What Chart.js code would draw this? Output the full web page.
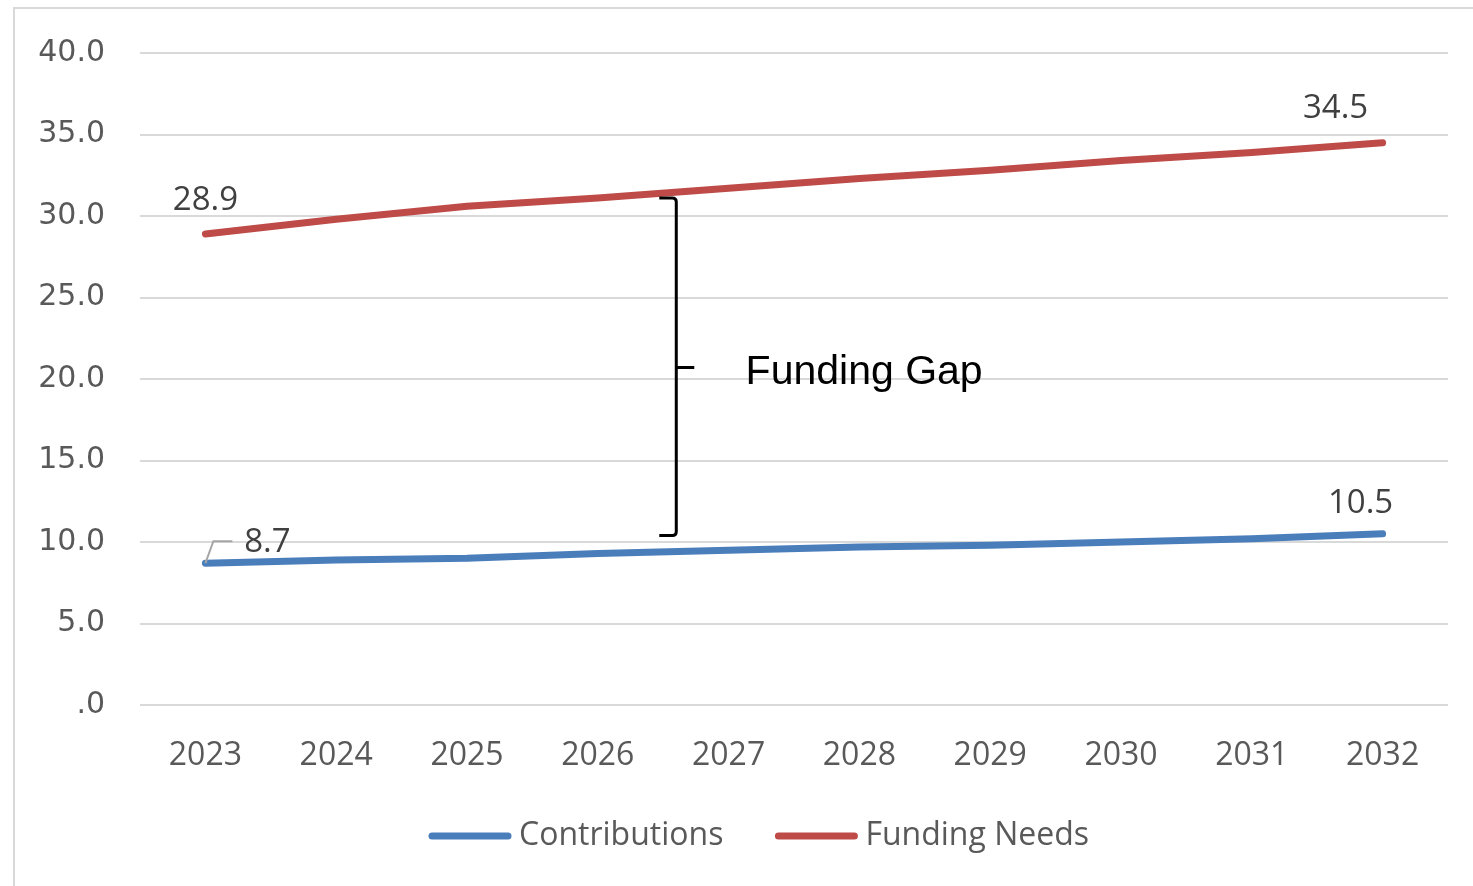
<!DOCTYPE html>
<html>
<head>
<meta charset="utf-8">
<script src="https://cdn.jsdelivr.net/npm/chart.js@4.4.0/dist/chart.umd.min.js"></script>
<style>
  html, body { margin: 0; padding: 0; background: #fff; overflow: hidden; }
  #frame { position: absolute; left: 13px; top: 7px; width: 1600px; height: 1000px;
           border-left: 2px solid #d9d9d9; border-top: 2px solid #d9d9d9; }
  #wrap { position: absolute; left: 0; top: 0; width: 1473px; height: 886px; }
</style>
</head>
<body>
<div id="frame"></div>
<div id="wrap"><canvas id="gapChart"></canvas></div>
<script>
// chart values
const years = ['2023', '2024', '2025', '2026', '2027', '2028', '2029', '2030', '2031', '2032'];
const contributions = [8.7, 8.9, 9.0, 9.3, 9.5, 9.7, 9.8, 10.0, 10.2, 10.5];
const fundingNeeds = [28.9, 29.8, 30.6, 31.1, 31.7, 32.3, 32.8, 33.4, 33.9, 34.5];
const yTicks = [0, 5, 10, 15, 20, 25, 30, 35, 40];

const labelFont = "'Open Sans', sans-serif";
const blue = '#4a7ebb';
const red = '#be4b48';

// bracket + "Funding Gap" annotation (in axis units)
const gapBracket = { x: 3.6, top: 31.1, bottom: 10.4, mid: 20.7 };
const gapText = { x: 4.13, y: 20.4, text: 'Funding Gap' };

// which points get a value label, and where it sits relative to the point
const valueLabels = [
  { ds: 1, i: 0, dx: 0, dy: -33 },
  { ds: 1, i: 9, dx: -47, dy: -34 },
  { ds: 0, i: 0, dx: 62, dy: -21, leader: true },
  { ds: 0, i: 9, dx: -22, dy: -30 }
];

const annotations = {
  id: 'annotations',
  afterDatasetsDraw(chart) {
    const ctx = chart.ctx;
    const xs = chart.scales.x, ys = chart.scales.y;
    ctx.save();

    // value labels
    ctx.font = '33px ' + labelFont;
    ctx.fillStyle = '#404040';
    ctx.textAlign = 'center';
    ctx.textBaseline = 'middle';
    valueLabels.forEach(l => {
      const pt = chart.getDatasetMeta(l.ds).data[l.i];
      const v = chart.data.datasets[l.ds].data[l.i];
      if (l.leader) {
        ctx.strokeStyle = '#a6a6a6';
        ctx.lineWidth = 2;
        ctx.beginPath();
        ctx.moveTo(pt.x, pt.y);
        ctx.lineTo(pt.x + 8, pt.y - 22);
        ctx.lineTo(pt.x + 27, pt.y - 22);
        ctx.stroke();
      }
      ctx.fillText(v.toFixed(1), pt.x + l.dx, pt.y + l.dy);
    });

    // bracket
    const bx = xs.getPixelForValue(gapBracket.x);
    const bt = ys.getPixelForValue(gapBracket.top);
    const bb = ys.getPixelForValue(gapBracket.bottom);
    const bm = ys.getPixelForValue(gapBracket.mid);
    ctx.strokeStyle = '#000';
    ctx.lineWidth = 3;
    ctx.lineJoin = 'round';
    ctx.beginPath();
    ctx.moveTo(bx - 17, bt);
    ctx.lineTo(bx - 4, bt);
    ctx.quadraticCurveTo(bx, bt, bx, bt + 4);
    ctx.lineTo(bx, bb - 4);
    ctx.quadraticCurveTo(bx, bb, bx - 4, bb);
    ctx.lineTo(bx - 17, bb);
    ctx.moveTo(bx, bm);
    ctx.lineTo(bx + 18, bm);
    ctx.stroke();

    // gap text
    ctx.font = "41px 'Liberation Sans', Arial, sans-serif";
    ctx.fillStyle = '#000';
    ctx.textAlign = 'left';
    ctx.fillText(gapText.text, xs.getPixelForValue(gapText.x), ys.getPixelForValue(gapText.y));
    ctx.restore();
  }
};

// legend drawn by hand: short line, small gap, label
const bottomLegend = {
  id: 'bottomLegend',
  afterDraw(chart) {
    const ctx = chart.ctx;
    const sets = chart.data.datasets;
    const lineLen = 82, textGap = 8, itemGap = 52;
    ctx.save();
    ctx.font = '32px ' + labelFont;
    ctx.textBaseline = 'middle';
    ctx.textAlign = 'left';
    const widths = sets.map(d => lineLen + textGap + ctx.measureText(d.label).width);
    const total = widths.reduce((a, b) => a + b, 0) + itemGap * (sets.length - 1);
    let x = (chart.chartArea.left + chart.chartArea.right) / 2 - total / 2 - 35;
    const y = chart.height - 50;
    sets.forEach((d, k) => {
      ctx.strokeStyle = d.borderColor;
      ctx.lineWidth = 7;
      ctx.lineCap = 'round';
      ctx.beginPath();
      ctx.moveTo(x + 3, y);
      ctx.lineTo(x + lineLen - 3, y);
      ctx.stroke();
      ctx.fillStyle = '#595959';
      ctx.fillText(d.label, x + lineLen + textGap, y);
      x += widths[k] + itemGap;
    });
    ctx.restore();
  }
};

new Chart(document.getElementById('gapChart'), {
  type: 'line',
  data: {
    labels: years,
    datasets: [
      {
        label: 'Contributions',
        data: contributions,
        borderColor: blue,
        backgroundColor: blue,
        borderWidth: 7,
        borderCapStyle: 'round',
        pointRadius: 0,
        tension: 0
      },
      {
        label: 'Funding Needs',
        data: fundingNeeds,
        borderColor: red,
        backgroundColor: red,
        borderWidth: 7,
        borderCapStyle: 'round',
        pointRadius: 0,
        tension: 0
      }
    ]
  },
  options: {
    responsive: true,
    maintainAspectRatio: false,
    animation: false,
    layout: { padding: { top: 49, right: 25, bottom: 81, left: 0 } },
    scales: {
      x: {
        offset: true,
        grid: { display: false },
        border: { display: false },
        ticks: {
          color: '#595959',
          font: { family: labelFont, size: 32 },
          padding: 24,
          maxRotation: 0
        },
        afterFit(scale) { scale.height = 100; }
      },
      y: {
        min: 0,
        max: 40,
        afterBuildTicks(scale) { scale.ticks = yTicks.map(v => ({ value: v })); },
        grid: { color: '#d9d9d9', lineWidth: 2, drawTicks: false },
        border: { display: false },
        ticks: {
          color: '#595959',
          font: { family: "'DejaVu Sans', sans-serif", size: 30 },
          padding: 35,
          callback: v => v === 0 ? '.0' : Number(v).toFixed(1)
        },
        afterFit(scale) { scale.width = 140; }
      }
    },
    plugins: {
      legend: { display: false },
      tooltip: { enabled: false }
    }
  },
  plugins: [annotations, bottomLegend]
});
</script>
</body>
</html>
